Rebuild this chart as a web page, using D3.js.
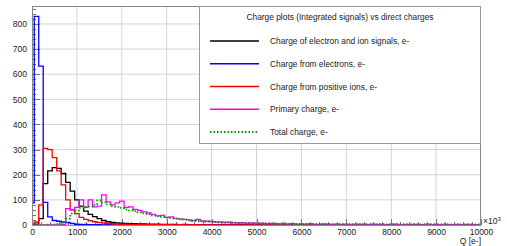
<!DOCTYPE html>
<html>
<head>
<meta charset="utf-8">
<script src="https://cdn.jsdelivr.net/npm/d3@7"></script>
<style>
  html, body { margin: 0; padding: 0; background: #fff; }
  text { font-family: "Liberation Sans", Arial, sans-serif; fill: #222; }
</style>
</head>
<body>
<div id="chart"></div>
<script>
// histogram bins: centred on multiples of 100, 100 bins from -50 to 9950
var binStart = -50, binWidth = 100;

var xTicks = [0, 1000, 2000, 3000, 4000, 5000, 6000, 7000, 8000, 9000, 10000];
var yTicks = [0, 100, 200, 300, 400, 500, 600, 700, 800];

var legendTitle = "Charge plots (Integrated signals) vs direct charges";
var seriesNames = ["Charge of electron and ion signals, e-", "Charge from electrons, e-",
                   "Charge from positive ions, e-", "Primary charge, e-", "Total charge, e-"];
var seriesColors = ["#000000", "#0000ff", "#ff0000", "#ff00ff", "#009900"];

var elIonSignal = [
  0, 3, 25, 165, 215, 228, 225, 205, 170, 135,
  100, 75, 55, 42, 33, 25, 18, 13, 10, 8,
  7, 6, 5, 5, 4, 4, 3, 3, 3, 2,
  2, 2, 2, 1, 2, 1, 1, 1, 1, 1,
  1, 0, 1, 0, 1, 0, 0, 1, 0, 0,
  0, 1, 0, 0, 0, 0, 1, 0, 0, 0,
  0, 0, 0, 1, 0, 0, 0, 0, 0, 0,
  0, 0, 0, 0, 1, 0, 0, 0, 0, 0,
  0, 0, 0, 0, 0, 0, 0, 0, 0, 0,
  0, 0, 0, 0, 0, 0, 0, 0, 0, 0];

var electrons = [
  88, 830, 632, 90, 32, 18, 15, 12, 10, 6,
  3, 2, 2, 1, 1, 1, 0, 1, 0, 0,
  0, 0, 0, 0, 0, 0, 0, 0, 0, 0,
  0, 0, 0, 0, 0, 0, 0, 0, 0, 0,
  0, 0, 0, 0, 0, 0, 0, 0, 0, 0,
  0, 0, 0, 0, 0, 0, 0, 0, 0, 0,
  0, 0, 0, 0, 0, 0, 0, 0, 0, 0,
  0, 0, 0, 0, 0, 0, 0, 0, 0, 0,
  0, 0, 0, 0, 0, 0, 0, 0, 0, 0,
  0, 0, 0, 0, 0, 0, 0, 0, 0, 0];

var posIons = [
  3, 12, 80, 305, 300, 268, 215, 160, 100, 60,
  45, 30, 22, 17, 13, 10, 8, 6, 5, 4,
  3, 3, 2, 2, 2, 2, 1, 1, 1, 1,
  1, 1, 0, 1, 0, 0, 1, 0, 0, 0,
  0, 0, 0, 0, 0, 0, 0, 0, 0, 0,
  0, 0, 0, 0, 0, 0, 0, 0, 0, 0,
  0, 0, 0, 0, 0, 0, 0, 0, 0, 0,
  0, 0, 0, 0, 0, 0, 0, 0, 0, 0,
  0, 0, 0, 0, 0, 0, 0, 0, 0, 0,
  0, 0, 0, 0, 0, 0, 0, 0, 0, 0];

var primary = [
  0, 0, 0, 0, 0, 0, 0, 2, 65, 60,
  70, 100, 70, 100, 72, 75, 120, 92, 80, 88,
  95, 70, 72, 62, 58, 52, 48, 42, 36, 38,
  30, 32, 26, 24, 22, 20, 18, 22, 16, 15,
  14, 12, 12, 10, 11, 9, 8, 9, 7, 8,
  6, 7, 5, 6, 5, 4, 6, 4, 5, 3,
  4, 3, 5, 3, 2, 4, 3, 2, 3, 2,
  3, 2, 2, 3, 2, 1, 3, 2, 2, 1,
  2, 3, 1, 2, 1, 2, 2, 1, 3, 1,
  2, 1, 2, 1, 1, 2, 1, 2, 1, 1];

var total = [
  0, 0, 0, 0, 1, 2, 4, 10, 25, 45,
  58, 68, 72, 74, 80, 98, 90, 82, 74, 72,
  68, 62, 58, 55, 50, 46, 42, 38, 35, 32,
  29, 27, 25, 23, 21, 19, 17, 16, 15, 14,
  13, 12, 11, 10, 10, 9, 8, 8, 7, 7,
  6, 6, 5, 6, 5, 4, 5, 4, 4, 4,
  3, 4, 3, 3, 4, 2, 3, 3, 2, 3,
  3, 2, 3, 2, 2, 3, 2, 2, 3, 2,
  2, 3, 2, 2, 2, 3, 2, 2, 2, 3,
  2, 2, 3, 2, 2, 2, 1, 2, 2, 2];

var allSeries = [elIonSignal, electrons, posIons, primary, total];

var W = 507, H = 246;
var frame = {left: 32, right: 481, top: 6, bottom: 225};

var svg = d3.select("#chart").append("svg")
    .attr("width", W).attr("height", H);

var x = d3.scaleLinear().domain([0, 10000]).range([frame.left, frame.right]);
var y = d3.scaleLinear().domain([0, 871.5]).range([frame.bottom, frame.top]);

svg.append("clipPath").attr("id", "frameClip")
  .append("rect")
    .attr("x", frame.left).attr("y", frame.top)
    .attr("width", frame.right - frame.left).attr("height", frame.bottom - frame.top);

// grid
var grid = svg.append("g").attr("class", "grid");
grid.selectAll("line.gx").data(xTicks.slice(1, -1)).enter().append("line")
    .attr("x1", d => x(d)).attr("x2", d => x(d))
    .attr("y1", frame.top).attr("y2", frame.bottom)
    .style("stroke", "#d4d4d4").style("stroke-width", 1);
grid.selectAll("line.gy").data(yTicks.slice(1)).enter().append("line")
    .attr("x1", frame.left).attr("x2", frame.right)
    .attr("y1", d => y(d)).attr("y2", d => y(d))
    .style("stroke", "#d4d4d4").style("stroke-width", 1);

// axes, ticks drawn inside the frame like ROOT
var yAxis = d3.axisLeft(y).tickValues(yTicks).tickSize(0).tickPadding(5);
var yg = svg.append("g").attr("transform", "translate(" + frame.left + ",0)").call(yAxis);
yg.select(".domain").remove();
yg.selectAll("text").style("font-size", "8.5px");

var xAxis = d3.axisBottom(x).tickValues(xTicks).tickSize(0).tickPadding(4)
    .tickFormat(d3.format("d"));
var xg = svg.append("g").attr("transform", "translate(0," + frame.bottom + ")").call(xAxis);
xg.select(".domain").remove();
xg.selectAll("text").style("font-size", "8.5px");

var ticks = svg.append("g").style("stroke", "#777").style("stroke-width", 1);
d3.range(0, 871, 20).forEach(function (v) {
  var major = v % 100 === 0;
  ticks.append("line")
    .attr("x1", frame.left).attr("x2", frame.left + (major ? 8 : 4))
    .attr("y1", Math.round(y(v)) + 0.5).attr("y2", Math.round(y(v)) + 0.5);
});
d3.range(0, 10001, 200).forEach(function (v) {
  var major = v % 1000 === 0;
  ticks.append("line")
    .attr("x1", Math.round(x(v)) + 0.5).attr("x2", Math.round(x(v)) + 0.5)
    .attr("y1", frame.bottom).attr("y2", frame.bottom - (major ? 6 : 3));
});

// histograms
function stepPath(vals) {
  var p = d3.path();
  p.moveTo(x(binStart), y(0));
  vals.forEach(function (v, i) {
    var lo = binStart + i * binWidth;
    p.lineTo(x(lo), y(v));
    p.lineTo(x(lo + binWidth), y(v));
  });
  p.lineTo(x(binStart + vals.length * binWidth), y(0));
  return p.toString();
}

var hg = svg.append("g").attr("clip-path", "url(#frameClip)");
allSeries.forEach(function (vals, i) {
  hg.append("path")
    .attr("d", stepPath(vals))
    .style("fill", "none")
    .style("stroke", seriesColors[i])
    .style("stroke-width", i === 4 ? 1.8 : 1.3)
    .style("stroke-dasharray", i === 4 ? "1.5,2" : null);
});

// frame
svg.append("rect")
  .attr("x", frame.left + 0.5).attr("y", frame.top + 0.5)
  .attr("width", frame.right - frame.left - 1).attr("height", frame.bottom - frame.top)
  .style("fill", "none").style("stroke", "#888").style("stroke-width", 1);

// axis extras
svg.append("text").attr("x", 483).attr("y", 224).style("font-size", "8.5px")
  .html("\u00d710<tspan dy='-3' style='font-size:6px'>3</tspan>");
svg.append("text").attr("x", frame.right).attr("y", 244)
  .attr("text-anchor", "end").style("font-size", "8.5px").text("Q [e-]");

// legend
var lg = svg.append("g");
lg.append("rect")
  .attr("x", 199.5).attr("y", 6.5).attr("width", 281).attr("height", 137)
  .style("fill", "#fff").style("stroke", "#999").style("stroke-width", 1);
lg.append("text").attr("x", 340).attr("y", 20).attr("text-anchor", "middle")
  .style("font-size", "8.4px").text(legendTitle);
var entryY = d3.scalePoint().domain(d3.range(seriesNames.length)).range([41, 132]);
seriesNames.forEach(function (name, i) {
  lg.append("line")
    .attr("x1", 210).attr("x2", 259)
    .attr("y1", entryY(i)).attr("y2", entryY(i))
    .style("stroke", seriesColors[i])
    .style("stroke-width", i === 4 ? 1.8 : 1.3)
    .style("stroke-dasharray", i === 4 ? "1.5,2" : null);
  lg.append("text").attr("x", 270).attr("y", entryY(i) + 3)
    .style("font-size", "8.4px").text(name);
});
</script>
</body>
</html>
